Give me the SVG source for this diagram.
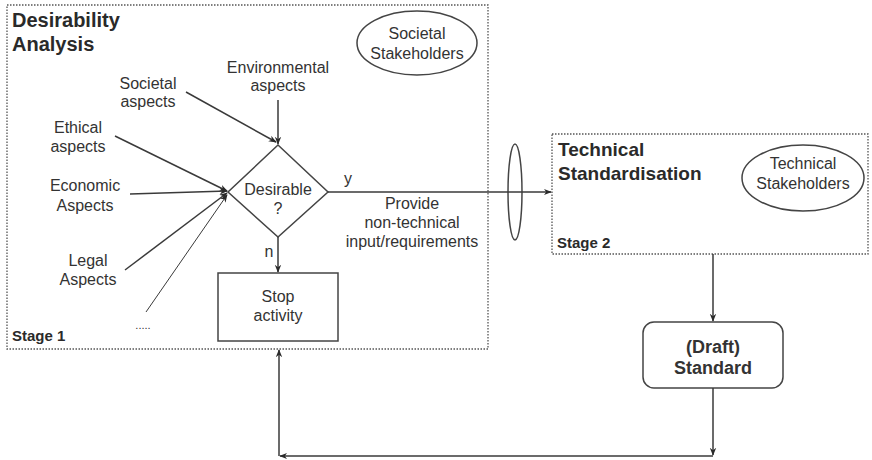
<svg xmlns="http://www.w3.org/2000/svg" width="872" height="460" viewBox="0 0 872 460">
  <style>
    text { font-family: "Liberation Sans", Arial, sans-serif; fill: #333; }
    .lbl { font-size: 16px; text-anchor: middle; }
    .sm { font-size: 16px; text-anchor: middle; }
    .title { font-size: 20px; font-weight: bold; fill: #2a2a2a; }
    .stage { font-size: 15px; font-weight: bold; fill: #2a2a2a; }
    .frame { fill: #fff; stroke: #555; stroke-width: 1.3; stroke-dasharray: 1.5 1.5; }
    .shape { fill: #fff; stroke: #444; stroke-width: 1.5; }
    .line { fill: none; stroke: #3a3a3a; stroke-width: 1.5; }
    .thin { fill: none; stroke: #3a3a3a; stroke-width: 1; }
  </style>
  <defs>
    <marker id="arr" viewBox="0 0 10 10" refX="9" refY="5" markerWidth="8" markerHeight="8" markerUnits="userSpaceOnUse" orient="auto-start-reverse">
      <path d="M0,1 L10,5 L0,9 L3,5 Z" fill="#2a2a2a"/>
    </marker>
  </defs>

  <rect width="872" height="460" fill="#fff"/>

  <!-- Stage 1 frame -->
  <g id="stage1">
    <rect class="frame" x="7" y="5" width="481" height="344"/>
    <text class="title" x="12" y="27">Desirability</text>
    <text class="title" x="12" y="51">Analysis</text>
    <text class="stage" x="12" y="341">Stage 1</text>
  </g>

  <!-- Stage 2 frame -->
  <g id="stage2">
    <rect class="frame" x="552" y="134" width="316" height="120"/>
    <text class="title" x="558" y="156" style="font-size:19px">Technical</text>
    <text class="title" x="558" y="180" style="font-size:19px">Standardisation</text>
    <text class="stage" x="557" y="248">Stage 2</text>
  </g>

  <g id="societal-stakeholders">
    <ellipse class="shape" cx="417" cy="43" rx="60" ry="32"/>
    <text class="sm" x="417" y="39">Societal</text>
    <text class="sm" x="417" y="59">Stakeholders</text>
  </g>

  <g id="technical-stakeholders">
    <ellipse class="shape" cx="803" cy="178" rx="61" ry="33"/>
    <text class="sm" x="803" y="169">Technical</text>
    <text class="sm" x="803" y="189">Stakeholders</text>
  </g>

  <g id="environmental">
    <text class="lbl" x="278" y="73">Environmental</text>
    <text class="lbl" x="278" y="91">aspects</text>
  </g>
  <g id="societal">
    <text class="lbl" x="148" y="89">Societal</text>
    <text class="lbl" x="148" y="107">aspects</text>
  </g>
  <g id="ethical">
    <text class="lbl" x="78" y="133">Ethical</text>
    <text class="lbl" x="78" y="152">aspects</text>
  </g>
  <g id="economic">
    <text class="lbl" x="85" y="191">Economic</text>
    <text class="lbl" x="85" y="211">Aspects</text>
  </g>
  <g id="legal">
    <text class="lbl" x="88" y="266">Legal</text>
    <text class="lbl" x="88" y="285">Aspects</text>
  </g>
  <g id="more">
    <text class="lbl" x="143" y="329" style="font-size:11px">.....</text>
  </g>

  <g id="decision">
    <polygon class="shape" points="278,145 328,192 278,237 228,192"/>
    <text class="lbl" x="278" y="195">Desirable</text>
    <text class="lbl" x="278" y="214">?</text>
  </g>

  <g id="stop">
    <rect class="shape" x="218" y="273" width="120" height="68"/>
    <text class="lbl" x="278" y="302">Stop</text>
    <text class="lbl" x="278" y="321">activity</text>
  </g>

  <g id="draft">
    <rect class="shape" x="643" y="322" width="140" height="66" rx="11"/>
    <text class="lbl" x="713" y="353" style="font-weight:bold;font-size:18px">(Draft)</text>
    <text class="lbl" x="713" y="374" style="font-weight:bold;font-size:18px">Standard</text>
  </g>

  <g id="interface">
    <ellipse class="shape" cx="515" cy="192" rx="7" ry="48" style="fill:none"/>
  </g>

  <g id="connectors">
    <line class="line" x1="278" y1="100" x2="278" y2="144" marker-end="url(#arr)"/>
    <line class="line" x1="186" y1="92" x2="276" y2="142" marker-end="url(#arr)"/>
    <line class="line" x1="115" y1="136" x2="227" y2="191" marker-end="url(#arr)"/>
    <line class="line" x1="130" y1="194" x2="227" y2="191" marker-end="url(#arr)"/>
    <line class="line" x1="125" y1="270" x2="227" y2="193" marker-end="url(#arr)"/>
    <line class="thin" x1="146" y1="312" x2="227" y2="195" marker-end="url(#arr)"/>
    <line class="line" x1="328" y1="192" x2="551" y2="192" marker-end="url(#arr)"/>
    <line class="line" x1="278" y1="237" x2="278" y2="272" marker-end="url(#arr)"/>
    <line class="line" x1="713" y1="254" x2="713" y2="321" marker-end="url(#arr)"/>
    <line class="line" x1="713" y1="388" x2="713" y2="455" marker-end="url(#arr)"/>
    <line class="line" x1="713" y1="456" x2="280" y2="456" marker-end="url(#arr)"/>
    <line class="line" x1="279" y1="456" x2="279" y2="350" marker-end="url(#arr)"/>
    <text class="lbl" x="348" y="184">y</text>
    <text class="lbl" x="269" y="257">n</text>
    <text class="lbl" x="412" y="209">Provide</text>
    <text class="lbl" x="412" y="228">non-technical</text>
    <text class="lbl" x="412" y="247">input/requirements</text>
  </g>
</svg>
